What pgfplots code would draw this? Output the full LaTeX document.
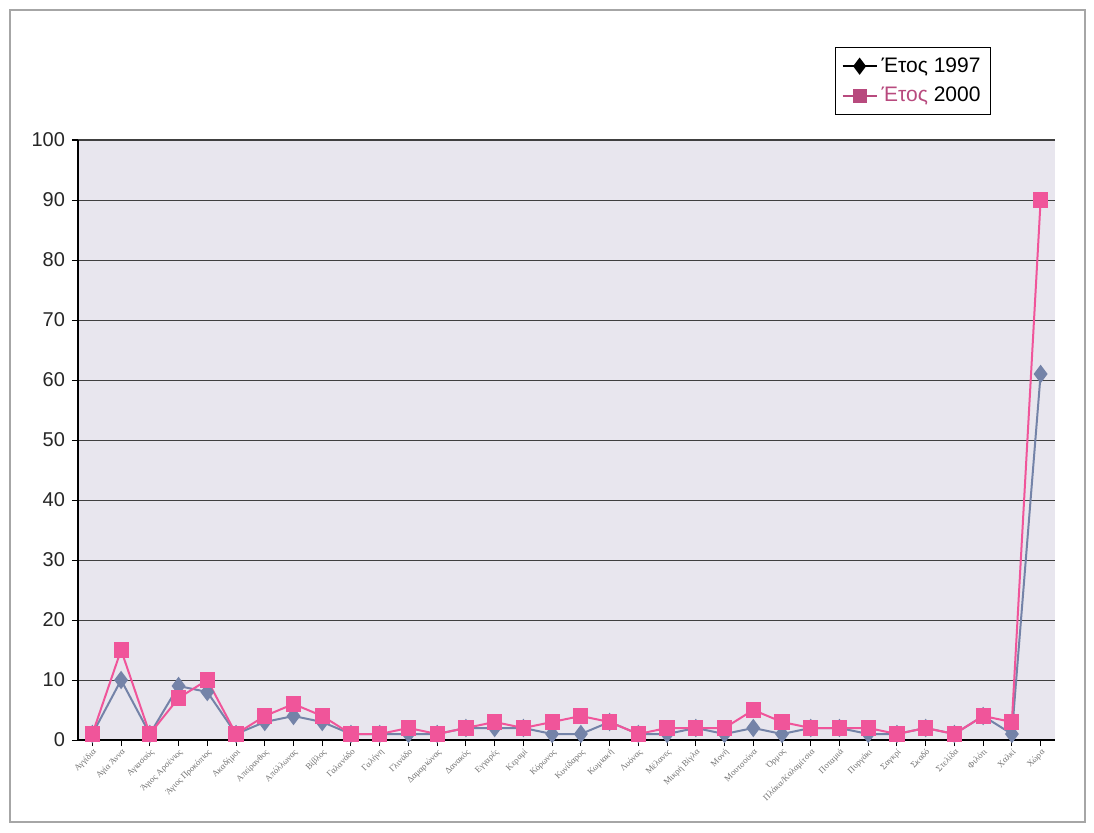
\documentclass[border=0pt]{standalone}
\usepackage{pgfplots}
\pgfplotsset{compat=1.18}
\usepackage{fontspec}
\setmainfont{Liberation Sans}
\newfontfamily\serifgr{Liberation Serif}
\definecolor{bluegray}{HTML}{7483A8}
\definecolor{pinkline}{HTML}{F0559A}
\definecolor{rose}{HTML}{B84A7E}
\definecolor{plotbg}{HTML}{E8E6EE}
\pgfplotstableread{
x y97 y00
1 1 1
2 10 15
3 1 1
4 9 7
5 8 10
6 1 1
7 3 4
8 4 6
9 3 4
10 1 1
11 1 1
12 1 2
13 1 1
14 2 2
15 2 3
16 2 2
17 1 3
18 1 4
19 3 3
20 1 1
21 1 2
22 2 2
23 1 2
24 2 5
25 1 3
26 2 2
27 2 2
28 1 2
29 1 1
30 2 2
31 1 1
32 4 4
33 1 3
34 61 90
}\datatable
\begin{document}
\begin{tikzpicture}
\path (0pt,0pt) rectangle (547pt,416pt);
\draw[gray!70, line width=0.6pt] (5pt,5pt) rectangle (542.5pt,411pt);
\begin{axis}[
  at={(39pt,46pt)}, anchor=south west,
  width=488.5pt, height=300pt, scale only axis,
  xmin=0.5, xmax=34.5, ymin=0, ymax=100,
  axis background/.style={fill=plotbg},
  axis line style={black, line width=0.6pt},
  axis x line*=bottom, axis y line*=left,
  ytick={0,10,...,100},
  ymajorgrids, grid style={black!75, line width=0.5pt},
  xtick={1,...,34},
  xticklabels={Αγγίδια,Αγία Άννα,Αγιασσός,Άγιος Αρσένιος,Άγιος Προκόπιος,Ακαδήμοι,Απείρανθος,Απόλλωνας,Βίβλος,Γαλανάδο,Γαλήνη,Γλινάδο,Δαμαριώνας,Δανακός,Εγγαρές,Κεραμί,Κόρωνος,Κυνίδαρος,Κωμιακή,Λυόνας,Μέλανες,Μικρή Βίγλα,Μονή,Μουτσούνα,Όρμος,Πλάκα/Καλαμίτσια,Ποταμιά,Πυργάκι,Σαγκρί,Σκαδό,Στελίδα,Φιλότι,Χαλκί,Χώρα},
  x tick label style={font=\serifgr\fontsize{4.4}{5}\selectfont, text=black!55, rotate=45, anchor=north east, inner sep=0.6pt},
  y tick label style={font=\fontsize{10}{11}\selectfont, text=black!85},
  /pgf/number format/assume math mode=true,
  tick align=outside, major tick length=3pt,
  tick style={black, line width=0.5pt},
  legend style={at={(0.775,1.155)}, anchor=north west, draw=black, fill=white,
    font=\fontsize{10.5}{12}\selectfont, row sep=2pt, inner sep=3pt},
  legend cell align=left,
]
\addlegendimage{black, line width=1pt, mark=diamond*, mark size=3.5pt, mark options={fill=black}}
\addlegendentry{Έτος 1997}
\addlegendimage{rose, line width=1pt, mark=square*, mark size=3pt, mark options={fill=rose}}
\addlegendentry{{\color{rose}Έτος} 2000}
\addplot[bluegray, line width=1pt, mark=diamond*, mark size=3.8pt, mark options={fill=bluegray}, forget plot] table[x=x,y=y97]{\datatable};
\addplot[pinkline, line width=1pt, mark=square*, mark size=3.3pt, mark options={fill=pinkline}, forget plot] table[x=x,y=y00]{\datatable};
\end{axis}
\end{tikzpicture}
\end{document}
